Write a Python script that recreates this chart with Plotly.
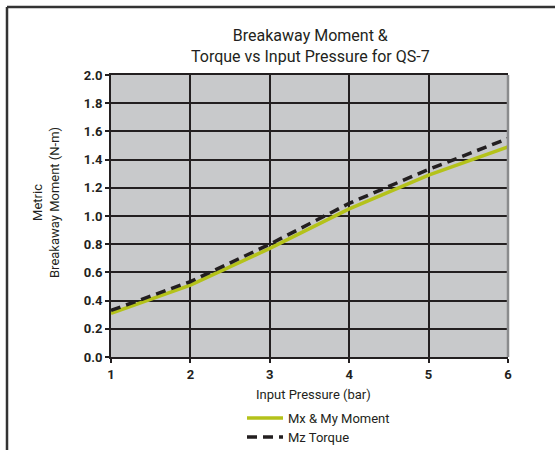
import plotly.graph_objects as go

pressure = [1, 2, 3, 4, 5, 6]
mx_my_moment = [0.31, 0.51, 0.77, 1.05, 1.29, 1.49]
mz_torque = [0.33, 0.535, 0.80, 1.09, 1.33, 1.55]
y_ticks = [0.0, 0.2, 0.4, 0.6, 0.8, 1.0, 1.2, 1.4, 1.6, 1.8, 2.0]

DARK = "#231f20"
GREEN = "#b4c21a"
FONT = "Roboto"

L, R, T, B = 111, 47, 75, 93
W, H = 555, 450
pw, ph = W - L - R, H - T - B

def px_x(px):
    return (px - L) / pw

def px_y(py):
    return (H - B - py) / ph

fig = go.Figure()
fig.add_trace(go.Scatter(x=pressure, y=mx_my_moment, mode="lines", name="Mx & My Moment",
                         line=dict(color=GREEN, width=3.5), legend="legend"))
fig.add_trace(go.Scatter(x=pressure, y=mz_torque, mode="lines", name="Mz Torque",
                         line=dict(color=DARK, width=3.5, dash="10px,6px"), legend="legend2"))

leg_common = dict(xanchor="left", yanchor="middle", bgcolor="rgba(0,0,0,0)", itemwidth=36,
                  font=dict(size=13, family=FONT, color=DARK))

fig.update_layout(
    width=W, height=H,
    margin=dict(l=L, r=R, t=T, b=B, autoexpand=False),
    paper_bgcolor="white",
    plot_bgcolor="#c8c9cb",
    font=dict(family=FONT, color=DARK, size=13),
    showlegend=True,
    legend=dict(x=px_x(242), y=px_y(418), **leg_common),
    legend2=dict(x=px_x(242), y=px_y(437), **leg_common),
    xaxis=dict(range=[1, 6], tickvals=pressure, ticktext=[str(v) for v in pressure],
               showgrid=True, gridcolor=DARK, gridwidth=2,
               showline=True, linecolor=DARK, linewidth=2, mirror=True,
               ticks="outside", ticklen=4, tickwidth=1.5, tickcolor=DARK,
               tickfont=dict(family=FONT, size=13, color=DARK, weight="bold"),
               zeroline=False, fixedrange=True, automargin=False),
    yaxis=dict(range=[0, 2.0], tickvals=y_ticks, ticktext=[f"{v:.1f}" for v in y_ticks],
               showgrid=True, gridcolor=DARK, gridwidth=2,
               showline=True, linecolor=DARK, linewidth=2,
               ticks="outside", ticklen=4, tickwidth=1.5, tickcolor=DARK,
               tickfont=dict(family=FONT, size=13, color=DARK, weight="bold"),
               zeroline=False, fixedrange=True, automargin=False),
)

# right plot edge in gray
fig.add_shape(type="line", xref="paper", yref="paper", x0=1, x1=1, y0=0, y1=1,
              line=dict(color="#8a8b8d", width=2.5), layer="above")
# outer frame (top and left)
fig.add_shape(type="line", xref="paper", yref="paper", x0=px_x(7), x1=px_x(560),
              y0=px_y(7), y1=px_y(7), line=dict(color="#333333", width=2.5))
fig.add_shape(type="line", xref="paper", yref="paper", x0=px_x(7), x1=px_x(7),
              y0=px_y(7), y1=px_y(470), line=dict(color="#333333", width=2.5))

fig.add_annotation(text="Breakaway Moment &<br>Torque vs Input Pressure for QS-7",
                   xref="paper", yref="paper", x=px_x(310), y=px_y(46),
                   xanchor="center", yanchor="middle", showarrow=False,
                   font=dict(size=16, family=FONT, color=DARK))
fig.add_annotation(text="Metric<br>Breakaway Moment (N-m)",
                   xref="paper", yref="paper", x=px_x(46), y=px_y(203),
                   xanchor="center", yanchor="middle", showarrow=False, textangle=-90,
                   font=dict(size=13, family=FONT, color=DARK))
fig.add_annotation(text="Input Pressure (bar)",
                   xref="paper", yref="paper", x=px_x(313), y=px_y(394),
                   xanchor="center", yanchor="middle", showarrow=False,
                   font=dict(size=13, family=FONT, color=DARK))

fig.write_html("out.html", config={"displayModeBar": False},
               post_script="document.body.style.margin='0';document.body.style.padding='0';")
